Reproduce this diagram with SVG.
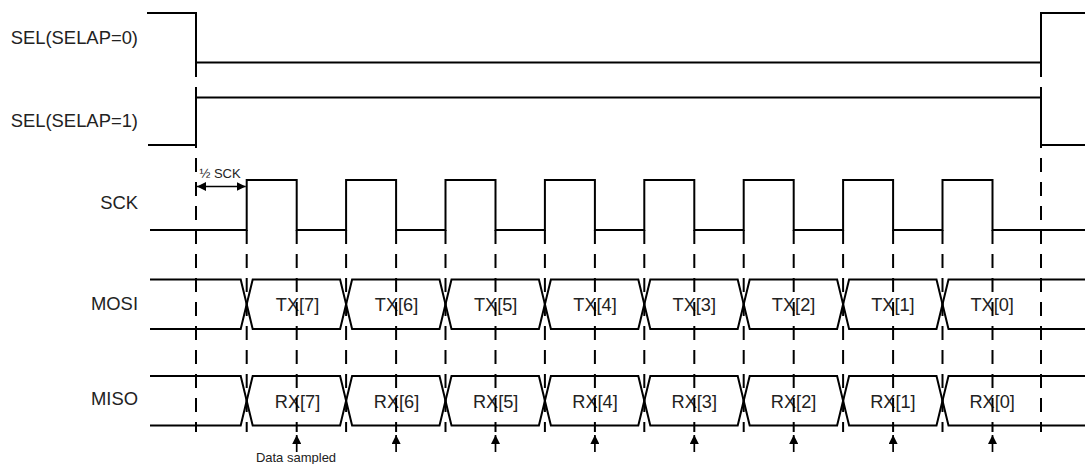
<svg xmlns="http://www.w3.org/2000/svg" width="1085" height="464" viewBox="0 0 1085 464">
<style>
.sig{fill:none;stroke:#000;stroke-width:2;stroke-linejoin:miter}
.dash{fill:none;stroke:#000;stroke-width:2;stroke-dasharray:14 10}
.lbl{font-family:"Liberation Sans",Arial,sans-serif;font-size:18.4px;fill:#222;text-anchor:end}
.bus{font-family:"Liberation Sans",Arial,sans-serif;font-size:18.2px;fill:#222;text-anchor:middle}
.small{font-family:"Liberation Sans",Arial,sans-serif;font-size:13px;fill:#222}
.arr{fill:none;stroke:#000;stroke-width:1.7}
</style>
<defs>
<marker id="ah" viewBox="0 0 10 10" refX="10" refY="5" markerWidth="9" markerHeight="9" markerUnits="userSpaceOnUse" orient="auto-start-reverse"><path d="M0,0 L10,5 L0,10 z" fill="#000"/></marker>
</defs>
<rect width="1085" height="464" fill="#fff"/>

<g id="sel0">
<text class="lbl" x="138" y="44">SEL(SELAP=0)</text>
<path class="sig" d="M147,13 H196 V77 M196,62.5 H1041 M1041,77 V13 H1085"/>
</g>

<g id="sel1">
<text class="lbl" x="138" y="127">SEL(SELAP=1)</text>
<path class="sig" d="M148,145 H196 V87 M196,97.5 H1041 M1041,87 V145 H1085 M1041,145 V148 M196,145 V148"/>
</g>

<g id="sck">
<text class="lbl" x="138" y="209">SCK</text>
<path class="sig" d="M150,230 H246.7 V180 H296.7 V230 H346.1 V180 H396.1 V230 H445.5 V180 H495.5 V230 H544.9 V180 H594.9 V230 H644.3 V180 H694.3 V230 H743.7 V180 H793.7 V230 H843.1 V180 H893.1 V230 H942.5 V180 H992.5 V230 H1085"/>
</g>

<g id="mosi">
<text class="lbl" x="138" y="310">MOSI</text>
<path class="sig" d="M150,279.5 H240.7 L252.7,329 H340.1 L352.1,279.5 H439.5 L451.5,329 H538.9 L550.9,279.5 H638.3 L650.3,329 H737.7 L749.7,279.5 H837.1 L849.1,329 H936.5 L948.5,279.5 H1085"/>
<path class="sig" d="M150,329 H240.7 L252.7,279.5 H340.1 L352.1,329 H439.5 L451.5,279.5 H538.9 L550.9,329 H638.3 L650.3,279.5 H737.7 L749.7,329 H837.1 L849.1,279.5 H936.5 L948.5,329 H1085"/>
<text class="bus" x="297.5" y="311">TX[7]</text>
<text class="bus" x="396.5" y="311">TX[6]</text>
<text class="bus" x="495.7" y="311">TX[5]</text>
<text class="bus" x="595" y="311">TX[4]</text>
<text class="bus" x="694.3" y="311">TX[3]</text>
<text class="bus" x="793.6" y="311">TX[2]</text>
<text class="bus" x="892.9" y="311">TX[1]</text>
<text class="bus" x="992.2" y="311">TX[0]</text>
</g>

<g id="miso">
<text class="lbl" x="138" y="405">MISO</text>
<path class="sig" d="M150,376 H240.7 L252.7,425.5 H340.1 L352.1,376 H439.5 L451.5,425.5 H538.9 L550.9,376 H638.3 L650.3,425.5 H737.7 L749.7,376 H837.1 L849.1,425.5 H936.5 L948.5,376 H1085"/>
<path class="sig" d="M150,425.5 H240.7 L252.7,376 H340.1 L352.1,425.5 H439.5 L451.5,376 H538.9 L550.9,425.5 H638.3 L650.3,376 H737.7 L749.7,425.5 H837.1 L849.1,376 H936.5 L948.5,425.5 H1085"/>
<text class="bus" x="297.5" y="407.5">RX[7]</text>
<text class="bus" x="396.5" y="407.5">RX[6]</text>
<text class="bus" x="495.7" y="407.5">RX[5]</text>
<text class="bus" x="595" y="407.5">RX[4]</text>
<text class="bus" x="694.3" y="407.5">RX[3]</text>
<text class="bus" x="793.6" y="407.5">RX[2]</text>
<text class="bus" x="892.9" y="407.5">RX[1]</text>
<text class="bus" x="992.2" y="407.5">RX[0]</text>
</g>

<g id="connectors">
<path class="dash" d="M196,158 V432 M1041,158 V432 M246.7,230 V432 M296.7,230 V432 M346.1,230 V432 M396.1,230 V432 M445.5,230 V432 M495.5,230 V432 M544.9,230 V432 M594.9,230 V432 M644.3,230 V432 M694.3,230 V432 M743.7,230 V432 M793.7,230 V432 M843.1,230 V432 M893.1,230 V432 M942.5,230 V432 M992.5,230 V432"/>
<line class="arr" x1="197" y1="186.5" x2="245.7" y2="186.5" marker-start="url(#ah)" marker-end="url(#ah)"/>
<line class="arr" x1="296.7" y1="452" x2="296.7" y2="435" marker-end="url(#ah)"/>
<line class="arr" x1="396.1" y1="452" x2="396.1" y2="435" marker-end="url(#ah)"/>
<line class="arr" x1="495.5" y1="452" x2="495.5" y2="435" marker-end="url(#ah)"/>
<line class="arr" x1="594.9" y1="452" x2="594.9" y2="435" marker-end="url(#ah)"/>
<line class="arr" x1="694.3" y1="452" x2="694.3" y2="435" marker-end="url(#ah)"/>
<line class="arr" x1="793.7" y1="452" x2="793.7" y2="435" marker-end="url(#ah)"/>
<line class="arr" x1="893.1" y1="452" x2="893.1" y2="435" marker-end="url(#ah)"/>
<line class="arr" x1="992.5" y1="452" x2="992.5" y2="435" marker-end="url(#ah)"/>
</g>

<g id="half-sck-label">
<text class="small" x="199.5" y="178">½ SCK</text>
</g>
<g id="data-sampled-label">
<text class="small" x="296" y="462" text-anchor="middle">Data sampled</text>
</g>
</svg>
